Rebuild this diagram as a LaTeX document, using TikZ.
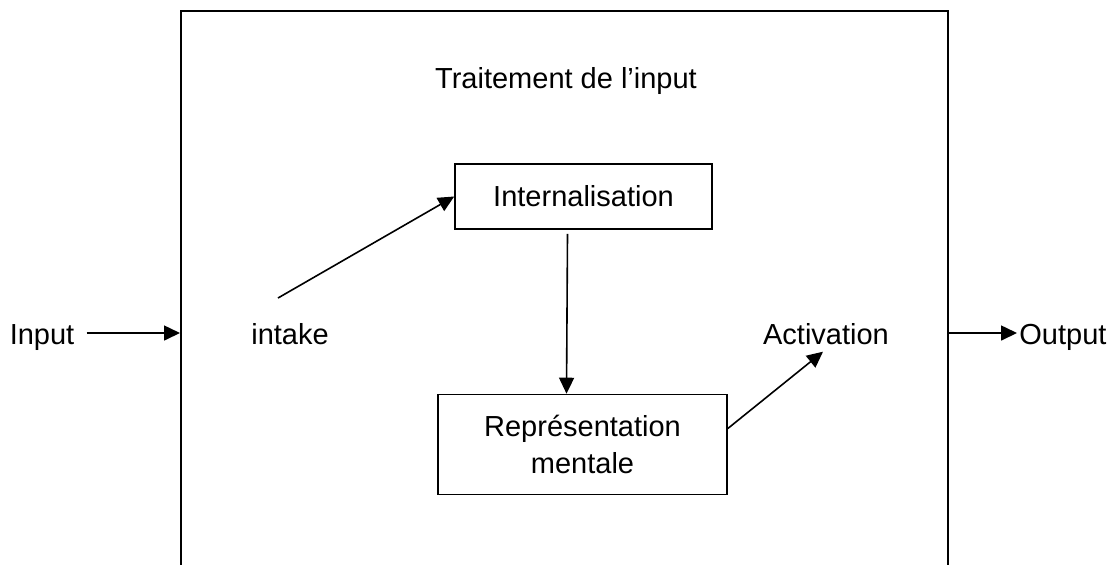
\documentclass[tikz,border=0pt]{standalone}
\usepackage{fontspec}
\setmainfont{Liberation Sans}
\usetikzlibrary{arrows.meta}
\tikzset{
  arr/.style={-{Triangle[length=8pt,width=7.5pt]}, line width=0.8pt},
  box/.style={draw, line width=0.8pt, inner sep=0pt, align=center},
  lbl/.style={inner sep=1pt, anchor=base}
}
\begin{document}
\begin{tikzpicture}[x=0.5pt,y=-0.5pt,font=\fontsize{14.5}{18.5}\selectfont]
      \useasboundingbox (0,0) rectangle (1111,564);
      \clip (0,0) rectangle (1111,564);
      \node (proc)[box, anchor=north west, minimum width=383.5pt, minimum height=320pt] at (180,10){};
      \node (title)[lbl] at (566,88){Traitement de l’input};
      \node (int)[box, minimum width=128.5pt, minimum height=32.5pt] at (583.5,196.5){Internalisation};
      \node (rep)[box, minimum width=144.5pt, minimum height=50pt] at (582.5,444.5){Représentation\\mentale};
      \node (in)[lbl] at (42,344){Input};
      \node (intake)[lbl] at (290,344){intake};
      \node (act)[lbl] at (826,344){Activation};
      \node (out)[lbl, anchor=base west] at (1017,344){Output};
      \coordinate (ia) at (278,298);
      \draw [arr]([xshift=5pt,yshift=5.5pt]in.base east)--([yshift=5.5pt]in.base -| proc.west);
      \draw [arr](ia)--(int.west);
      \draw [arr]([xshift=-8pt,yshift=-2pt]int.south)--([xshift=-8pt]rep.north);
      \draw [arr]([yshift=8pt]rep.east)--([xshift=-1.5pt,yshift=-2.5pt]act.south);
      \draw [arr]([yshift=5.5pt]out.base west -| proc.east)--([yshift=5.5pt]out.base west);
    \end{tikzpicture}
\end{document}
